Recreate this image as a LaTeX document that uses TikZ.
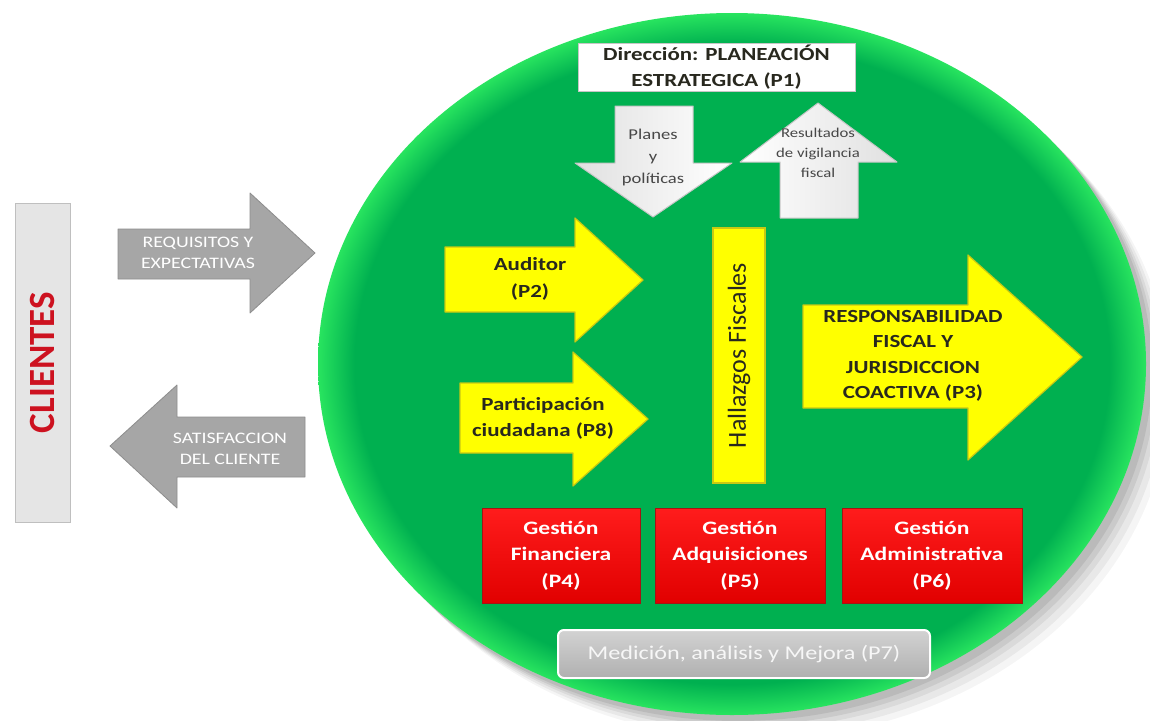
\documentclass[tikz,border=0pt]{standalone}
\usepackage{fontspec}
\setmainfont{Carlito}[FakeStretch=1.24]
\newfontfamily\plainfont{Carlito}
\usepackage{tikz}
\definecolor{gin}{RGB}{0,176,80}
\definecolor{grim}{RGB}{40,228,95}
\definecolor{ylw}{RGB}{255,255,0}
\definecolor{ylwedge}{RGB}{200,200,20}
\definecolor{txtdark}{RGB}{40,40,30}
\definecolor{arrgray}{RGB}{166,166,166}
\definecolor{redtop}{RGB}{255,28,28}
\definecolor{redbot}{RGB}{225,0,0}
\definecolor{redline}{RGB}{165,20,20}
\definecolor{clired}{RGB}{205,18,32}
\pgfdeclareradialshading{greenrim}{\pgfpoint{0bp}{0bp}}{color(0bp)=(gin); color(22.8bp)=(gin); color(25bp)=(grim); color(50bp)=(grim)}
\tikzstyle{yarrow}=[fill=ylw,draw=ylwedge,line width=1.2pt,line join=round]
\tikzstyle{garrow}=[fill=arrgray,draw=arrgray!85!black,line width=0.8pt,line join=round]
\tikzstyle{warrow}=[draw=gray!45,line width=1pt,line join=round]
\tikzstyle{ytext}=[text=txtdark,align=center,inner sep=0pt,font=\fontsize{18.5}{26}\selectfont\bfseries]
\tikzstyle{gtext}=[text=white,align=center,inner sep=0pt,font=\fontsize{16}{21}\selectfont]
\tikzstyle{wtext}=[text=black!72,align=center,inner sep=0pt]
\tikzstyle{gestion}=[top color=redtop,bottom color=redbot,draw=redline,line width=1pt,minimum height=95pt,text=white,align=center,inner sep=0pt,font=\fontsize{19}{26.5}\selectfont\bfseries]

\begin{document}
\begin{tikzpicture}[x=1pt,y=-1pt]
\useasboundingbox (0,0) rectangle (1150,720);
\fill[white] (0,0) rectangle (1150,720);
\foreach \d/\o in {24/0.04,19/0.05,14/0.06,10/0.07,6/0.08}
  \fill[black,opacity=\o,shift={(\d,\d)}] (732,364) ellipse [x radius=414pt,y radius=351pt];
\shade[shading=greenrim] (732,364) ellipse [x radius=414pt,y radius=351pt];

\node[fill=white,draw=gray!45,line width=1pt,minimum width=277pt,minimum height=48pt,inner sep=0pt,
  text=txtdark,align=center,font=\fontsize{18.5}{26}\selectfont\bfseries] (p1) at (716.5,67) {Dirección: PLANEACIÓN\\ESTRATEGICA (P1)};

\draw[warrow,left color=black!12,right color=white] (615,106) -- (693,106) -- (693,163) -- (732,163) -- (653,217) -- (575,163) -- (615,163) -- cycle;
\node[wtext,font=\fontsize{15}{22}\selectfont] (planes) at (653,157) {Planes\\y\\políticas};
\draw[warrow,left color=white,right color=black!12] (818,103) -- (897,162) -- (858,162) -- (858,218) -- (780,218) -- (780,162) -- (740,162) -- cycle;
\node[wtext,font=\fontsize{13.5}{20}\selectfont] (result) at (818,153) {Resultados\\de vigilancia\\fiscal};

\draw[yarrow] (445,247) -- (575,247) -- (575,218) -- (643,280) -- (575,342) -- (575,312) -- (445,312) -- cycle;
\node[ytext,font=\fontsize{18.5}{27}\selectfont\bfseries] (p2) at (530,279) {Auditor\\(P2)};
\draw[yarrow] (460,383) -- (573,383) -- (573,352) -- (648,419) -- (573,486) -- (573,453) -- (460,453) -- cycle;
\node[ytext] (p8) at (543,418) {Participación\\ciudadana (P8)};
\draw[yarrow] (803,305) -- (968,305) -- (968,255) -- (1082,357) -- (968,460) -- (968,408) -- (803,408) -- cycle;
\node[ytext,font=\fontsize{18.5}{25.5}\selectfont\bfseries] (p3) at (913,356) {RESPONSABILIDAD\\FISCAL Y\\JURISDICCION\\COACTIVA (P3)};
\node[fill=ylw,draw=ylwedge,line width=1.2pt,rotate=90,minimum width=255pt,minimum height=52pt,inner sep=0pt,
  text=txtdark,font=\plainfont\fontsize{26}{30}\selectfont] (hall) at (739,355.5) {Hallazgos Fiscales};

\node[gestion,minimum width=158pt] (p4) at (561,555.5) {Gestión\\Financiera\\(P4)};
\node[gestion,minimum width=170pt] (p5) at (740,555.5) {Gestión\\Adquisiciones\\(P5)};
\node[gestion,minimum width=180pt] (p6) at (932,555.5) {Gestión\\Administrativa\\(P6)};
\node[top color=gray!35,bottom color=gray!62,draw=white,line width=2pt,rounded corners=6pt,minimum width=372pt,minimum height=48pt,
  inner sep=0pt,text=white!94!gray,font=\fontsize{19.5}{24}\selectfont] (p7) at (744,654) {Medición, análisis y Mejora (P7)};

\draw[garrow] (118,229) -- (250,229) -- (250,193) -- (315,253) -- (250,313) -- (250,279) -- (118,279) -- cycle;
\node[gtext] (req) at (198,253) {REQUISITOS Y\\EXPECTATIVAS};
\draw[garrow] (110,446) -- (177,385) -- (177,417) -- (305,417) -- (305,477) -- (177,477) -- (177,508) -- cycle;
\node[gtext] (sat) at (230,449) {SATISFACCION\\DEL CLIENTE};

\node[left color=gray!20,middle color=white,right color=gray!20,draw=gray!50,line width=1pt,minimum width=55pt,minimum height=319pt,inner sep=0pt,
  text=clired,font=\plainfont\bfseries\fontsize{37}{40}\selectfont] (clientes) at (42.5,362.5) {\rotatebox{90}{CLIENTES}};
\end{tikzpicture}
\end{document}
